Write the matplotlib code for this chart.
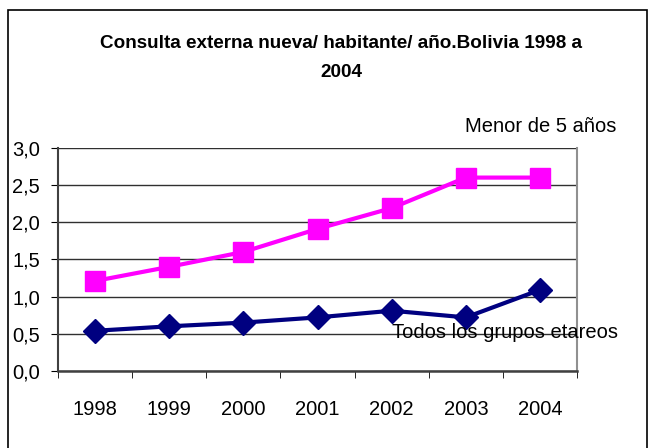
import matplotlib
matplotlib.use("Agg")
import matplotlib.pyplot as plt
from matplotlib.patches import Rectangle
from matplotlib.ticker import FuncFormatter

# data
years = ["1998", "1999", "2000", "2001", "2002", "2003", "2004"]
menor5 = [1.21, 1.40, 1.60, 1.91, 2.19, 2.60, 2.60]
todos = [0.54, 0.60, 0.65, 0.72, 0.81, 0.72, 1.09]

plt.rcParams['font.family'] = ['Liberation Sans', 'DejaVu Sans']

fig = plt.figure(figsize=(6.57, 4.48), dpi=100)
ax = fig.add_axes([0.0883, 0.172, 0.790, 0.498])

# outer chart border
fig.patches.append(Rectangle((8 / 657, -0.1), 639 / 657, 1.1 - 10 / 448,
                             transform=fig.transFigure, fill=False,
                             edgecolor='black', linewidth=1.2))

x = range(len(years))
ax.plot(x, menor5, color='#FF00FF', linewidth=3, marker='s', markersize=14,
        clip_on=False, zorder=3)
ax.plot(x, todos, color='#000080', linewidth=3, marker='D', markersize=12,
        clip_on=False, zorder=3)

ax.set_xlim(-0.5, len(years) - 0.5)
ax.set_ylim(0, 3.0)
ax.set_yticks([0, 0.5, 1.0, 1.5, 2.0, 2.5, 3.0])
ax.yaxis.set_major_formatter(FuncFormatter(lambda v, p: f"{v:.1f}".replace('.', ',')))
ax.set_xticks(list(x))
ax.set_xticklabels(years)
ax.set_xticks([i - 0.5 for i in range(len(years) + 1)], minor=True)
ax.tick_params(axis='x', which='major', length=0, pad=21, labelsize=14.5)
ax.tick_params(axis='x', which='minor', length=5, direction='out', color='black')
ax.tick_params(axis='y', length=5, direction='out', labelsize=14.5, pad=8)

ax.grid(axis='y', color='#303030', linewidth=1)
ax.set_axisbelow(True)
ax.spines['top'].set_visible(False)
ax.spines['right'].set_color('#909090')
ax.spines['right'].set_linewidth(1.5)
ax.spines['left'].set_color('#404040')
ax.spines['left'].set_linewidth(1.5)
ax.spines['bottom'].set_color('#404040')
ax.spines['bottom'].set_linewidth(1.8)

fig.text(0.519, 1 - 58 / 448, "Consulta externa nueva/ habitante/ año.Bolivia 1998 a\n2004",
         ha='center', va='center', fontsize=13.6, fontweight='bold', linespacing=1.85)

fig.text(465 / 657, 1 - 127 / 448, "Menor de 5 años", ha='left', va='center', fontsize=14.5)
fig.text(392 / 657, 1 - 332 / 448, "Todos los grupos etareos", ha='left', va='center', fontsize=14.5)

fig.savefig("out.png", dpi=100)
